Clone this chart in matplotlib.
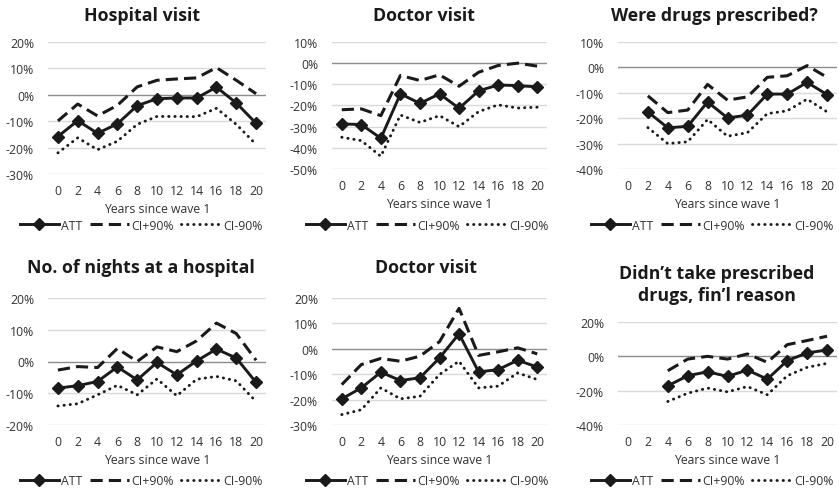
import numpy as np
import matplotlib
matplotlib.use('Agg')
import matplotlib.pyplot as plt
from matplotlib import rcParams

rcParams['font.family'] = ['Open Sans', 'DejaVu Sans']

nan = np.nan
years = [0, 2, 4, 6, 8, 10, 12, 14, 16, 18, 20]

# Hospital visit
hosp_att = [-15.8, -9.8, -14.6, -11.0, -4.1, -1.5, -1.2, -1.2, 2.9, -3.1, -10.8]
hosp_hi = [-9.9, -3.5, -8.0, -4.0, 3.0, 5.5, 6.0, 6.4, 10.3, 5.5, 0.4]
hosp_lo = [-22.0, -16.3, -20.8, -17.6, -11.2, -8.2, -8.2, -8.3, -5.1, -11.2, -18.8]

# Doctor visit (top)
doc1_att = [-28.7, -29.0, -35.5, -14.5, -19.0, -14.5, -21.3, -13.1, -10.3, -10.6, -11.2]
doc1_hi = [-22.0, -21.6, -24.8, -5.8, -8.2, -5.5, -10.9, -4.3, -1.1, 0.0, -1.4]
doc1_lo = [-35.0, -36.6, -44.0, -24.5, -28.0, -24.8, -30.0, -22.9, -19.7, -21.2, -20.8]

# Were drugs prescribed?
drug_att = [nan, -17.5, -23.8, -23.2, -13.6, -19.9, -18.8, -10.5, -10.5, -5.9, -10.7]
drug_hi = [nan, -11.2, -17.8, -16.8, -6.7, -12.9, -11.6, -3.9, -3.3, 0.7, -3.9]
drug_lo = [nan, -23.7, -30.0, -29.3, -20.5, -27.1, -25.7, -18.2, -17.1, -12.5, -17.5]

# No. of nights at a hospital
night_att = [-8.4, -7.6, -6.3, -1.7, -5.8, -0.3, -4.2, 0.2, 3.9, 1.1, -6.6]
night_hi = [-2.7, -1.6, -1.9, 4.1, 0.0, 4.6, 3.1, 6.5, 12.1, 8.8, 0.4]
night_lo = [-14.0, -13.3, -10.5, -7.5, -10.5, -5.5, -10.8, -5.6, -4.7, -6.1, -12.6]

# Doctor visit (bottom)
doc2_att = [-19.7, -15.4, -9.2, -12.5, -11.4, -3.6, 5.9, -9.1, -8.2, -4.5, -7.2]
doc2_hi = [-14.1, -6.2, -3.8, -4.9, -2.9, 2.8, 15.9, -2.6, -1.2, 0.4, -2.0]
doc2_lo = [-25.9, -24.0, -15.4, -19.7, -18.7, -10.1, -4.9, -15.4, -14.7, -9.5, -12.1]

# Didn't take prescribed drugs, fin'l reason
fin_att = [nan, nan, -17.2, -11.3, -9.0, -11.7, -8.0, -13.3, -2.5, 2.0, 3.7]
fin_hi = [nan, nan, -8.4, -1.6, 0.0, -1.6, 1.4, -3.5, 6.8, 9.2, 11.7]
fin_lo = [nan, nan, -26.3, -21.5, -18.5, -20.7, -17.6, -22.4, -11.3, -6.4, -4.1]

W, H = 839, 489
fig = plt.figure(figsize=(W/100, H/100), dpi=100)

def px(l, t, r, b):
    return [l/W, 1-b/H, (r-l)/W, (b-t)/H]

panels = [
    # title, title pos, axes px box, ylim, yticks, data, legend y, legend x
    ("Hospital visit", (142, 16), (48, 43, 266, 175), (-30, 20), range(-30, 21, 10), (hosp_att, hosp_hi, hosp_lo), 226, 141),
    ("Doctor visit", (424, 16), (332, 43, 547, 170), (-50, 10), range(-50, 11, 10), (doc1_att, doc1_hi, doc1_lo), 226, 427),
    ("Were drugs prescribed?", (714, 16), (618, 43, 837, 170), (-40, 10), range(-40, 11, 10), (drug_att, drug_hi, drug_lo), 226, 712),
    ("No. of nights at a hospital", (141, 268), (48, 299, 266, 426), (-20, 20), range(-20, 21, 10), (night_att, night_hi, night_lo), 482, 141),
    ("Doctor visit", (426, 268), (332, 299, 547, 426), (-30, 20), range(-30, 21, 10), (doc2_att, doc2_hi, doc2_lo), 482, 427),
    ("Didn\u2019t take prescribed\ndrugs, fin\u2019l reason", (717, 285), (618, 323, 837, 426), (-40, 20), range(-40, 21, 20), (fin_att, fin_hi, fin_lo), 482, 712),
]

for title, tpos, box, ylim, yt, (att, hi, lo), legy, legx in panels:
    ax = fig.add_axes(px(*box))
    for s in ax.spines.values():
        s.set_visible(False)
    ax.set_xlim(-1, 21)
    ax.set_ylim(*ylim)
    for v in yt:
        ax.axhline(v, color='#8c8c8c' if v == 0 else '#d9d9d9', lw=1.0, zorder=0)
    l1, = ax.plot(years, att, color='#1a1a1a', lw=2.1, marker='D', ms=6.5, label='ATT', zorder=3)
    l2, = ax.plot(years, hi, color='#1a1a1a', lw=2.2, ls=(0, (4.0, 2.0)), label='CI+90%', zorder=2)
    l3, = ax.plot(years, lo, color='#1a1a1a', lw=2.1, ls=(0, (0.1, 2.0)), dash_capstyle='round',
                  label='CI-90%', zorder=2)
    ax.set_xticks(years)
    ax.set_xticklabels([str(y) for y in years])
    ax.set_yticks(list(yt))
    ax.set_yticklabels(['%d%%' % v for v in yt])
    ax.tick_params(length=0, labelsize=8.8, labelcolor='#333333')
    ax.tick_params(axis='y', pad=10)
    ax.tick_params(axis='x', pad=7)
    ax.set_xlabel('Years since wave 1', fontsize=8.8, color='#333333', labelpad=4)
    fig.text(tpos[0]/W, 1-tpos[1]/H, title, ha='center', va='center', fontsize=12.8,
             fontweight='bold', color='#1a1a1a', linespacing=1.25)
    fig.legend([l1, l2, l3], ['ATT', 'CI+90%', 'CI-90%'], loc='center',
               bbox_to_anchor=(legx/W, 1-legy/H), ncol=3, frameon=False, fontsize=8.8,
               handlelength=3.2, columnspacing=0.6, handletextpad=0.2, labelcolor='#333333')

plt.savefig('out.png', dpi=100)
